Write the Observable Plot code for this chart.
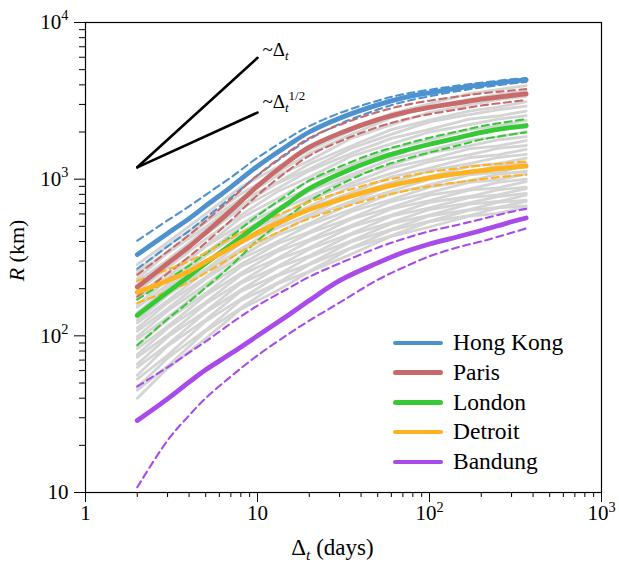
<!DOCTYPE html>
<html><head><meta charset="utf-8">
<script src="https://cdn.jsdelivr.net/npm/d3@7"></script>
<script src="https://cdn.jsdelivr.net/npm/@observablehq/plot@0.6"></script>
<style>
html,body{margin:0;padding:0;background:#fff;}
#wrap{position:relative;width:619px;height:577px;font-family:"Liberation Serif","Tinos","DejaVu Serif","Noto Serif","FreeSerif",serif;}
#legend{position:absolute;left:393px;top:328px;}
.row{display:flex;align-items:center;height:29.75px;}
.sw{display:inline-block;width:50px;height:4.6px;border-radius:2.5px;margin-right:10px;}
.lab{font-size:23.5px;color:#000;line-height:1;}
</style></head><body>
<div id="wrap"><div id="legend"></div></div>
<script>
// ---------- data ----------
const cities = ["Hong Kong", "Paris", "London", "Detroit", "Bandung"];
const colors = ["#4d91cf", "#c96a6a", "#36c936", "#fdb21e", "#a84bea"];

const days = [2, 3, 4, 5, 7, 10, 15, 20, 30, 50, 70, 100, 150, 200, 300, 365];
const hongKong   = [330, 450, 560, 675, 890, 1210, 1640, 2000, 2450, 2980, 3300, 3560, 3830, 4000, 4220, 4300];
const hongKongHi = [405, 545, 670, 795, 1025, 1370, 1820, 2180, 2640, 3170, 3480, 3720, 3970, 4130, 4340, 4420];
const hongKongLo = [268, 372, 468, 568, 760, 1055, 1460, 1800, 2250, 2780, 3110, 3380, 3670, 3850, 4080, 4170];
const paris      = [205, 290, 370, 455, 630, 905, 1290, 1600, 1960, 2400, 2650, 2870, 3080, 3240, 3420, 3500];
const parisHi    = [245, 345, 440, 540, 745, 1060, 1480, 1830, 2220, 2680, 2950, 3170, 3380, 3530, 3680, 3760];
const parisLo    = [178, 250, 320, 393, 545, 790, 1130, 1410, 1740, 2150, 2390, 2600, 2800, 2950, 3120, 3200];
const london     = [135, 190, 240, 290, 380, 510, 700, 870, 1080, 1350, 1510, 1670, 1850, 1990, 2140, 2200];
const londonHi   = [170, 228, 280, 335, 430, 585, 795, 980, 1200, 1490, 1660, 1840, 2030, 2180, 2340, 2420];
const londonLo   = [87, 128, 165, 203, 280, 405, 575, 725, 920, 1180, 1330, 1480, 1650, 1790, 1930, 1990];
const detroit    = [190, 225, 258, 298, 365, 455, 560, 640, 740, 870, 945, 1020, 1090, 1135, 1190, 1210];
const detroitHi  = [225, 265, 300, 340, 420, 515, 630, 715, 820, 960, 1035, 1110, 1180, 1225, 1275, 1295];
const detroitLo  = [162, 192, 220, 252, 315, 395, 490, 560, 650, 765, 835, 900, 960, 1000, 1050, 1065];
const bandung    = [28.8, 39.6, 50.6, 60.7, 77, 100, 135, 168, 225, 292, 340, 386, 432, 470, 535, 565];
const bandungHi  = [47.5, 63, 78, 92, 120, 156, 200, 238, 290, 365, 415, 465, 515, 555, 620, 646];
const bandungLo  = [10.8, 21.5, 31, 40, 55, 75, 102, 125, 163, 228, 272, 322, 370, 400, 455, 485];

const grayDays = [2, 3, 5, 8, 13, 20, 35, 60, 100, 170, 250, 365];
const g01 = [285, 395, 600, 890, 1190, 1540, 2040, 2620, 3020, 3520, 3730, 3950];
const g02 = [262, 375, 555, 805, 1100, 1460, 1930, 2470, 2880, 3230, 3470, 3640];
const g03 = [250, 345, 530, 750, 1050, 1310, 1820, 2230, 2670, 2980, 3220, 3380];
const g04 = [232, 338, 495, 730, 950, 1250, 1630, 2070, 2380, 2720, 2880, 3120];
const g05 = [222, 305, 475, 680, 940, 1160, 1570, 1930, 2320, 2580, 2770, 2930];
const g06 = [203, 302, 445, 650, 870, 1130, 1460, 1820, 2080, 2420, 2530, 2720];
const g07 = [192, 272, 415, 590, 830, 1030, 1400, 1680, 2000, 2230, 2420, 2540];
const g08 = [178, 255, 375, 565, 750, 975, 1230, 1570, 1780, 2070, 2180, 2370];
const g09 = [172, 238, 372, 515, 710, 870, 1175, 1400, 1670, 1880, 2070, 2140];
const g10 = [158, 228, 338, 495, 650, 840, 1065, 1345, 1530, 1770, 1860, 2010];
const g11 = [152, 212, 325, 455, 628, 770, 1035, 1235, 1470, 1630, 1780, 1870];
const g12 = [140, 203, 296, 436, 572, 740, 940, 1185, 1340, 1560, 1630, 1760];
const g13 = [136, 188, 288, 405, 548, 670, 900, 1090, 1295, 1430, 1570, 1640];
const g14 = [126, 182, 266, 390, 505, 650, 820, 1035, 1175, 1370, 1430, 1550];
const g15 = [121, 168, 258, 360, 488, 592, 790, 950, 1135, 1255, 1375, 1440];
const g16 = [112, 162, 237, 350, 450, 575, 720, 915, 1040, 1205, 1255, 1360];
const g17 = [107, 149, 231, 322, 437, 522, 700, 840, 1000, 1105, 1215, 1270];
const g18 = [99, 144, 212, 310, 398, 508, 640, 810, 920, 1065, 1105, 1210];
const g19 = [95, 131, 205, 286, 386, 462, 620, 742, 890, 975, 1075, 1120];
const g20 = [87, 127, 187, 276, 354, 452, 565, 720, 820, 955, 990, 1080];
const g21 = [83, 115, 181, 251, 344, 412, 555, 660, 790, 865, 955, 1000];
const g22 = [76, 112, 164, 244, 312, 402, 505, 645, 730, 850, 880, 965];
const g23 = [73, 101, 160, 221, 305, 365, 495, 590, 710, 775, 855, 890];
const g24 = [66, 98, 144, 216, 276, 357, 450, 580, 655, 762, 795, 870];
const g25 = [63, 88, 141, 196, 272, 324, 442, 530, 640, 705, 775, 810];
const g26 = [56, 86, 127, 192, 244, 318, 404, 520, 590, 692, 720, 790];
const g27 = [53, 75, 124, 172, 240, 288, 398, 478, 582, 640, 710, 735];
const g28 = [47, 72, 109, 168, 217, 284, 365, 472, 540, 632, 660, 722];
const g29 = [45, 64, 107, 151, 214, 258, 362, 436, 535, 586, 655, 675];
const g30 = [40, 62, 96, 148, 194, 256, 332, 432, 495, 580, 605, 662];

const refDays = [2, 10];
const refLinear = [1190, 5950];
const refSqrt = [1190, 2660];
const refLabels = ["~Δ_{t}", "~Δ_{t}^{1/2}"];

const xMajor = [1, 10, 100, 1000];
const xTickLabels = ["1", "10", "10^{2}", "10^{3}"];
const xMinor = [2,3,4,5,6,7,8,9,20,30,40,50,60,70,80,90,200,300,400,500,600,700,800,900];
const yMajor = [10, 100, 1000, 10000];
const yTickLabels = ["10", "10^{2}", "10^{3}", "10^{4}"];
const yMinor = [20,30,40,50,60,70,80,90,200,300,400,500,600,700,800,900,2000,3000,4000,5000,6000,7000,8000,9000];
const xTitle = "Δ_{t} (days)";
const yTitle = "*R* (km)";

// ---------- tidy tables ----------
const mids = [hongKong, paris, london, detroit, bandung];
const his = [hongKongHi, parisHi, londonHi, detroitHi, bandungHi];
const los = [hongKongLo, parisLo, londonLo, detroitLo, bandungLo];
const solidRows = cities.flatMap((c, i) => days.map((d, j) => ({city: c, x: d, y: mids[i][j]})));
const dashRows = cities.flatMap((c, i) => [
  ...days.map((d, j) => ({city: c, key: c + "hi", x: d, y: his[i][j]})),
  ...days.map((d, j) => ({city: c, key: c + "lo", x: d, y: los[i][j]}))
]);
const grays = [g01,g02,g03,g04,g05,g06,g07,g08,g09,g10,g11,g12,g13,g14,g15,g16,g17,g18,g19,g20,g21,g22,g23,g24,g25,g26,g27,g28,g29,g30];
const grayRows = grays.flatMap((g, k) => grayDays.map((d, j) => ({id: k, x: d, y: g[j]})));
const refRows = [
  ...refDays.map((d, j) => ({k: 0, x: d, y: refLinear[j]})),
  ...refDays.map((d, j) => ({k: 1, x: d, y: refSqrt[j]}))
];
const refText = [
  {x: refDays[1], y: refLinear[1], t: refLabels[0]},
  {x: refDays[1], y: refSqrt[1], t: refLabels[1]}
];
const xLab = new Map(xMajor.map((v, i) => [v, xTickLabels[i]]));
const yLab = new Map(yMajor.map((v, i) => [v, yTickLabels[i]]));

const FONT = "'Liberation Serif', 'Tinos', 'DejaVu Serif', 'Noto Serif', 'FreeSerif', serif";
const plot = Plot.plot({
  width: 619, height: 577,
  marginLeft: 85, marginRight: 18, marginTop: 22, marginBottom: 85,
  style: {fontFamily: FONT, fontSize: "21px", background: "white", color: "black"},
  x: {type: "log", domain: [1, 1000], label: null},
  y: {type: "log", domain: [10, 10000], label: null},
  color: {domain: cities, range: colors},
  marks: [
    Plot.line(grayRows, {x: "x", y: "y", z: "id", stroke: "#d4d4d4", strokeWidth: 2.8}),
    Plot.line(dashRows, {x: "x", y: "y", z: "key", stroke: "city", strokeWidth: 2.1, strokeDasharray: "7,4.5", curve: "catmull-rom"}),
    Plot.line(solidRows, {x: "x", y: "y", z: "city", stroke: "city", strokeWidth: 4.8, strokeLinecap: "round", curve: "catmull-rom"}),
    Plot.line(refRows, {x: "x", y: "y", z: "k", stroke: "black", strokeWidth: 2.6}),
    Plot.text([refText[0]], {x: "x", y: "y", text: "t", textAnchor: "start", dx: 5, dy: -8, fontSize: 19}),
    Plot.text([refText[1]], {x: "x", y: "y", text: "t", textAnchor: "start", dx: 5, dy: -11, fontSize: 19}),
    Plot.axisX(xMinor, {tickSize: 5, tickFormat: () => "", label: null}),
    Plot.axisX(xMajor, {tickSize: 10, tickPadding: 3, tickFormat: d => xLab.get(d), label: null, fontSize: 21}),
    Plot.axisY(yMinor, {tickSize: 6, tickFormat: () => "", label: null}),
    Plot.axisY(yMajor, {tickSize: 11, tickPadding: 6, tickFormat: d => yLab.get(d), label: null, fontSize: 21}),
    Plot.text([xTitle], {text: d => d, frameAnchor: "bottom", textAnchor: "middle", dx: -11, dy: 62, fontSize: 23}),
    Plot.text([yTitle], {text: d => d, frameAnchor: "left", textAnchor: "middle", rotate: -90, fontSize: 22}),
    Plot.frame({stroke: "black", strokeWidth: 1.2})
  ]
});
const wrap = document.getElementById("wrap");
wrap.insertBefore(plot, wrap.firstChild);

// ---------- rich text (super/subscripts, italics) ----------
const NS = "http://www.w3.org/2000/svg";
let yTitleEl = null;
function rich(el) {
  const s = el.textContent;
  if (s === yTitle) yTitleEl = el;
  if (!/[\^_*]/.test(s)) return;
  const size = parseFloat(getComputedStyle(el).fontSize) || 20;
  el.textContent = "";
  const re = /\^\{([^}]*)\}|_\{([^}]*)\}|\*([^*]*)\*|([^\^_*]+)/g;
  let shift = 0;
  for (const m of s.matchAll(re)) {
    const t = document.createElementNS(NS, "tspan");
    let target = 0;
    if (m[1] != null) { t.textContent = m[1]; t.setAttribute("font-size", 0.68 * size); target = -0.42 * size; }
    else if (m[2] != null) { t.textContent = m[2]; t.setAttribute("font-size", 0.68 * size); t.setAttribute("font-style", "italic"); target = 0.22 * size; }
    else if (m[3] != null) { t.textContent = m[3]; t.setAttribute("font-style", "italic"); }
    else { t.textContent = m[4]; }
    const d = target - shift;
    if (d) t.setAttribute("dy", d);
    shift = target;
    el.appendChild(t);
  }
}
d3.select(plot).selectAll("text").each(function() { rich(this); });

// rotated y title: explicit placement, centred at (16, 250)
if (yTitleEl) {
  yTitleEl.setAttribute("transform", "translate(16,250) rotate(-90)");
  yTitleEl.setAttribute("text-anchor", "middle");
  yTitleEl.removeAttribute("dx");
  yTitleEl.setAttribute("dy", "0.35em");
  yTitleEl.removeAttribute("x");
  yTitleEl.removeAttribute("y");
}

// ---------- legend ----------
const legend = document.getElementById("legend");
cities.forEach((c, i) => {
  const row = document.createElement("div");
  row.className = "row";
  row.innerHTML = `<span class="sw" style="background:${colors[i]}"></span><span class="lab">${c}</span>`;
  legend.appendChild(row);
});
</script></body></html>
